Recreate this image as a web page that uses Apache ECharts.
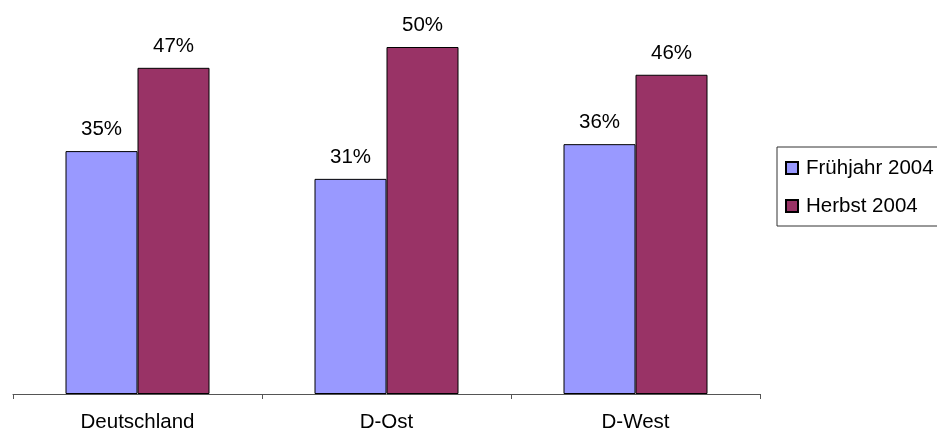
<!DOCTYPE html>
<html><head><meta charset="utf-8">
<script src="https://cdn.jsdelivr.net/npm/echarts@6/dist/echarts.min.js"></script>
<style>html,body{margin:0;padding:0;background:#fff}#c{width:937px;height:434px}</style>
</head><body><div id="c"></div>
<script>
const categories = ['Deutschland', 'D-Ost', 'D-West'];
const seriesNames = ['Frühjahr 2004', 'Herbst 2004'];
const fruehjahr = [35, 31, 36];
const herbst = [47, 50, 46];

const font = 'Liberation Sans, Arial, sans-serif';
const fs = 20.5;
const chart = echarts.init(document.getElementById('c'));
chart.setOption({
  animation: false,
  grid: { left: 13, right: 177, top: 47, bottom: 40 },
  xAxis: {
    type: 'category', data: categories,
    axisLine: { lineStyle: { color: '#555', width: 1 } },
    axisTick: { show: true, alignWithLabel: false, length: 5, lineStyle: { color: '#555' } },
    axisLabel: { color: '#000', fontFamily: font, fontSize: fs, margin: 18 }
  },
  yAxis: { type: 'value', min: 0, max: 50, show: false, splitLine: { show: false } },
  legend: {
    orient: 'vertical', left: 777, top: 147,
    data: seriesNames,
    itemWidth: 12, itemHeight: 12, itemGap: 16,
    padding: [10, 30, 9, 8],
    borderColor: '#333', borderWidth: 1,
    textStyle: { color: '#000', fontFamily: font, fontSize: fs, lineHeight: 22, padding: [0,0,0,3] },
    icon: 'rect'
  },
  series: [
    { name: seriesNames[0], type: 'bar', data: fruehjahr, barWidth: 72, barGap: '0%',
      itemStyle: { color: '#9999FF', borderColor: '#000', borderWidth: 1 },
      label: { show: true, position: 'top', distance: 11, formatter: '{c}%', color: '#000', fontFamily: font, fontSize: fs } },
    { name: seriesNames[1], type: 'bar', data: herbst, barWidth: 72, barGap: '0%',
      itemStyle: { color: '#993366', borderColor: '#000', borderWidth: 1 },
      label: { show: true, position: 'top', distance: 11, formatter: '{c}%', color: '#000', fontFamily: font, fontSize: fs } }
  ]
});
</script></body></html>
